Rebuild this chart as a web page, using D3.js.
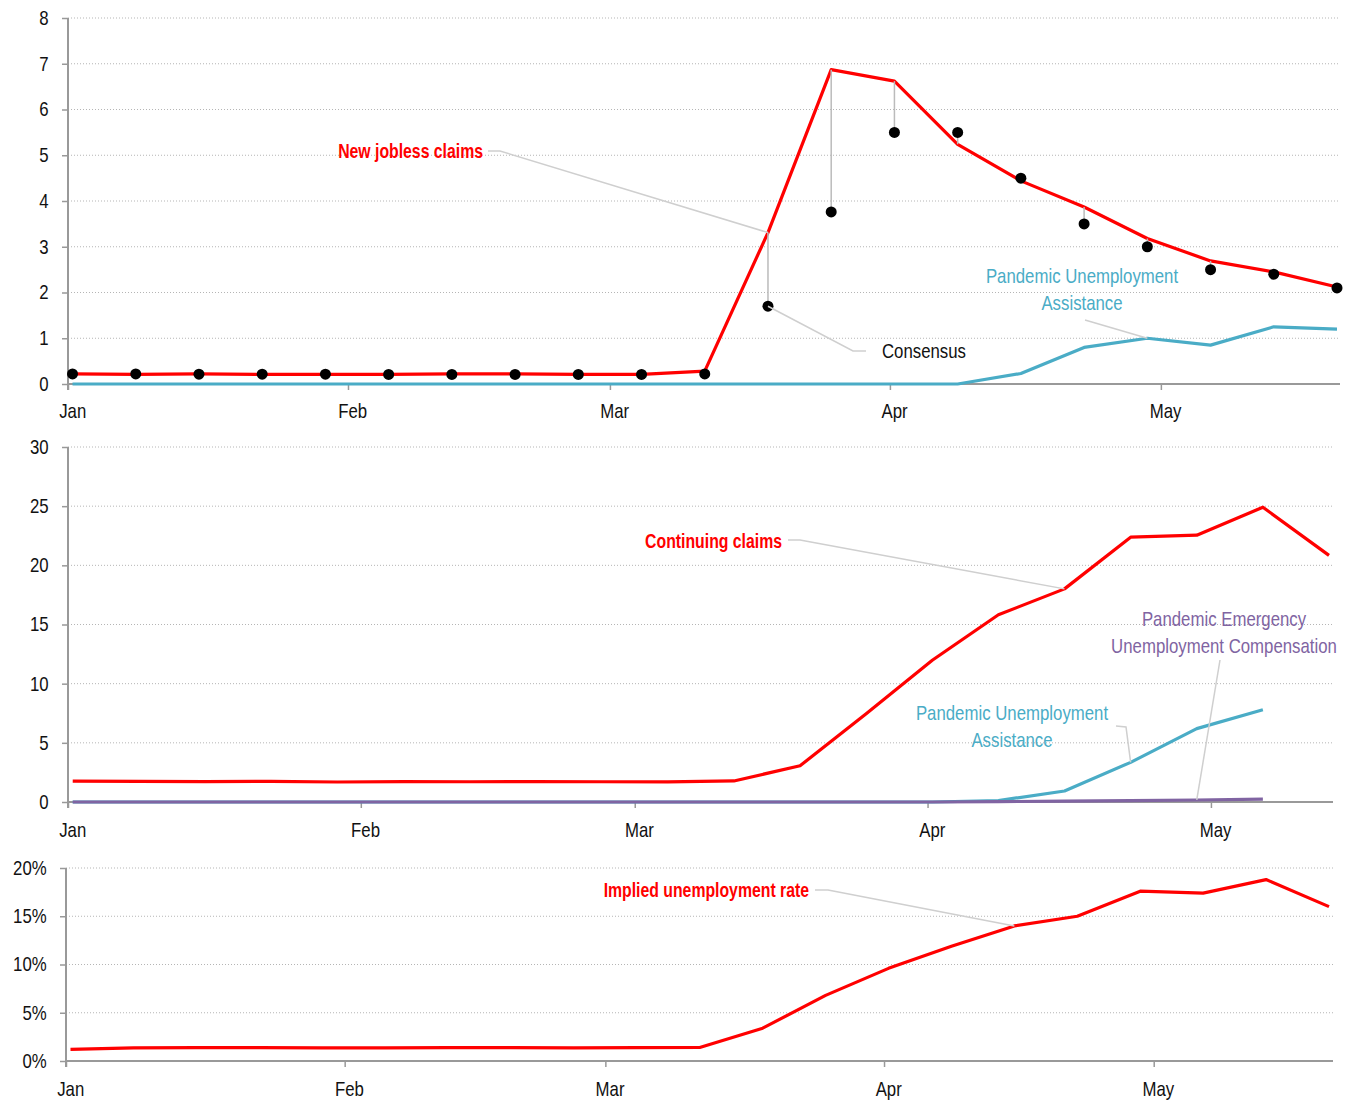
<!DOCTYPE html>
<html>
<head>
<meta charset="utf-8">
<script src="https://cdn.jsdelivr.net/npm/d3@7"></script>
<style>
  body { margin: 0; background: #fff; }
  svg { display: block; font-family: "Liberation Sans", Arial, sans-serif; }
</style>
</head>
<body>
<svg width="1352" height="1104"></svg>
<script>
// weekly dates (Wednesdays)
var weekDates = ['2020-01-01', '2020-01-08', '2020-01-15', '2020-01-22', '2020-01-29',
	'2020-02-05', '2020-02-12', '2020-02-19', '2020-02-26', '2020-03-04', '2020-03-11',
	'2020-03-18', '2020-03-25', '2020-04-01', '2020-04-08', '2020-04-15', '2020-04-22',
	'2020-04-29', '2020-05-06', '2020-05-13', '2020-05-20'];

// panel 1, millions
var newClaims = [0.22, 0.21, 0.22, 0.21, 0.21, 0.21, 0.22, 0.22, 0.21, 0.21, 0.28,
	3.31, 6.87, 6.62, 5.24, 4.44, 3.87, 3.18, 2.69, 2.45, 2.12];
var consensus = [0.22, 0.22, 0.215, 0.215, 0.215, 0.21, 0.21, 0.21, 0.21, 0.21, 0.22,
	1.70, 3.76, 5.50, 5.50, 4.50, 3.50, 3.00, 2.50, 2.40, 2.10];
var puaNew = [0, 0, 0, 0, 0, 0, 0, 0, 0, 0, 0, 0, 0, 0, 0, 0.23, 0.80, 1.00, 0.85, 1.25, 1.20];

// panel 2, millions
var continuing = [1.77, 1.75, 1.72, 1.74, 1.69, 1.73, 1.71, 1.72, 1.71, 1.70, 1.78,
	3.06, 7.46, 11.98, 15.82, 18.01, 22.38, 22.55, 24.91, 20.84];
var puaCont = [0, 0, 0, 0, 0, 0, 0, 0, 0, 0, 0, 0, 0, 0, 0.12, 0.93, 3.35, 6.20, 7.80];
var peuc = [0, 0, 0, 0, 0, 0, 0, 0, 0, 0, 0, 0, 0, 0, 0.03, 0.07, 0.12, 0.17, 0.25];

// panel 3, percent
var impliedRate = [1.2, 1.35, 1.38, 1.38, 1.35, 1.37, 1.38, 1.38, 1.37, 1.38, 1.4,
	3.4, 6.8, 9.6, 11.9, 14.0, 15.0, 17.6, 17.4, 18.8, 16.0];

var ticks1 = [0, 1, 2, 3, 4, 5, 6, 7, 8];
var ticks2 = [0, 5, 10, 15, 20, 25, 30];
var ticks3 = [0, 5, 10, 15, 20];

var RED = '#ff0000', TEAL = '#4aacc6', PURPLE = '#8064a2', LEADER = '#cfcfcf';
var NARROW = 0.84, NARROW_BOLD = 0.79; // fake a condensed face

var parse = d3.timeParse('%Y-%m-%d');
var dates = weekDates.map(function(s) { return d3.timeHour.offset(parse(s), 12); });

var svg = d3.select('svg');

function drawPanel(p) {
	var x = d3.scaleTime().domain([parse('2020-01-01'), p.end]).range([p.left, p.right]);
	var y = d3.scaleLinear().domain(p.yDomain).range([p.bottom, p.top]);
	var g = svg.append('g');

	// dotted grid
	g.selectAll('.grid').data(p.yTicks.slice(1)).enter().append('line')
		.attr('x1', p.left).attr('x2', p.gridRight)
		.attr('y1', function(d) { return y(d); }).attr('y2', function(d) { return y(d); })
		.attr('stroke', '#b5b5b5').attr('stroke-width', 1).attr('stroke-dasharray', '1,2');

	var yAxis = d3.axisLeft(y).tickValues(p.yTicks).tickSize(6).tickFormat(p.fmt);
	var ya = g.append('g').attr('transform', `translate(${p.left},0)`).call(yAxis);
	ya.select('.domain').remove();
	ya.selectAll('line').attr('stroke', '#999').attr('stroke-width', 1.5);
	ya.selectAll('text').attr('x', -23).attr('font-size', 20).attr('fill', '#111')
		.attr('font-family', 'inherit').attr('transform', `scale(${NARROW},1)`);
	g.append('line').attr('x1', p.left).attr('x2', p.left)
		.attr('y1', p.top).attr('y2', p.bottom + 6)
		.attr('stroke', '#999').attr('stroke-width', 2);

	var xAxis = d3.axisBottom(x).ticks(d3.timeMonth.every(1))
		.tickFormat(d3.timeFormat('%b')).tickSize(6).tickSizeOuter(0);
	var xa = g.append('g').attr('transform', `translate(0,${p.bottom})`).call(xAxis);
	xa.select('.domain').remove();
	xa.selectAll('line').attr('stroke', '#999').attr('stroke-width', 1.5);
	xa.selectAll('text').attr('x', 5).attr('y', p.labelY).attr('font-size', 20).attr('fill', '#111')
		.attr('font-family', 'inherit').attr('transform', `scale(${NARROW},1)`);
	g.append('line').attr('x1', p.left).attr('x2', p.gridRight)
		.attr('y1', p.bottom).attr('y2', p.bottom)
		.attr('stroke', '#999').attr('stroke-width', 2);

	var line = d3.line()
		.x(function(d, i) { return x(dates[i]); })
		.y(function(d) { return y(d); });

	p.series.forEach(function(s) {
		g.append('path')
			.attr('d', line(s.values))
			.attr('fill', 'none')
			.attr('stroke', s.color)
			.attr('stroke-width', 3.2)
			.attr('stroke-linejoin', 'round');
	});

	return { g: g, x: x, y: y };
}

function leader(g, pts) {
	g.append('polyline')
		.attr('points', pts.map(function(d) { return d.join(','); }).join(' '))
		.attr('fill', 'none').attr('stroke', LEADER).attr('stroke-width', 1.5);
}

function label(g, lines, x0, y0, color, anchor, bold) {
	var t = g.append('text')
		.attr('transform', `translate(${x0},${y0}) scale(${bold ? NARROW_BOLD : NARROW},1)`)
		.attr('text-anchor', anchor)
		.attr('fill', color)
		.attr('font-size', 20)
		.attr('font-weight', bold ? 'bold' : 'normal');
	lines.forEach(function(l, i) {
		t.append('tspan').attr('x', 0).attr('dy', i === 0 ? 0 : 27).text(l);
	});
}

// ---- panel 1
var p1 = drawPanel({
	left: 68, right: 1337, gridRight: 1340, top: 18, bottom: 384, labelY: 20,
	end: d3.timeHour.offset(parse('2020-05-20'), 12),
	yDomain: [0, 8], yTicks: ticks1, fmt: d3.format('d'),
	series: [
		{ values: puaNew, color: TEAL },
		{ values: newClaims, color: RED }
	]
});
// consensus stems + dots
p1.g.selectAll('.stem').data(consensus).enter().append('line')
	.attr('x1', function(d, i) { return p1.x(dates[i]); })
	.attr('x2', function(d, i) { return p1.x(dates[i]); })
	.attr('y1', function(d) { return p1.y(d); })
	.attr('y2', function(d, i) { return p1.y(newClaims[i]); })
	.attr('stroke', '#bbb').attr('stroke-width', 1.5);
p1.g.selectAll('.dot').data(consensus).enter().append('circle')
	.attr('cx', function(d, i) { return p1.x(dates[i]); })
	.attr('cy', function(d) { return p1.y(d); })
	.attr('r', 5.5).attr('fill', '#000');

leader(p1.g, [[488, 151], [500, 151], [p1.x(dates[11]), p1.y(newClaims[11])]]);
label(p1.g, ['New jobless claims'], 483, 158, RED, 'end', true);
leader(p1.g, [[866, 351], [853, 351], [p1.x(dates[11]), p1.y(consensus[11])]]);
label(p1.g, ['Consensus'], 882, 358, '#111', 'start', false);
leader(p1.g, [[1085, 320], [p1.x(dates[17]), p1.y(puaNew[17])]]);
label(p1.g, ['Pandemic Unemployment', 'Assistance'], 1082, 283, TEAL, 'middle', false);

// ---- panel 2
var p2 = drawPanel({
	left: 68, right: 1329, gridRight: 1333, top: 447, bottom: 802, labelY: 21,
	end: d3.timeHour.offset(parse('2020-05-13'), 12),
	yDomain: [0, 30], yTicks: ticks2, fmt: d3.format('d'),
	series: [
		{ values: puaCont, color: TEAL },
		{ values: peuc, color: PURPLE },
		{ values: continuing, color: RED }
	]
});
leader(p2.g, [[788, 540], [800, 540], [p2.x(dates[15]), p2.y(continuing[15])]]);
label(p2.g, ['Continuing claims'], 782, 548, RED, 'end', true);
leader(p2.g, [[1220, 660], [p2.x(dates[17]), p2.y(peuc[17])]]);
label(p2.g, ['Pandemic Emergency', 'Unemployment Compensation'], 1224, 626, PURPLE, 'middle', false);
leader(p2.g, [[1116, 726], [1126, 727], [p2.x(dates[16]), p2.y(puaCont[16])]]);
label(p2.g, ['Pandemic Unemployment', 'Assistance'], 1012, 720, TEAL, 'middle', false);

// ---- panel 3
var p3 = drawPanel({
	left: 66, right: 1329, gridRight: 1333, top: 868, bottom: 1061, labelY: 21,
	end: d3.timeHour.offset(parse('2020-05-20'), 12),
	yDomain: [0, 20], yTicks: ticks3, fmt: function(d) { return d + '%'; },
	series: [
		{ values: impliedRate, color: RED }
	]
});
leader(p3.g, [[815, 890], [828, 890], [p3.x(dates[15]), p3.y(impliedRate[15])]]);
label(p3.g, ['Implied unemployment rate'], 809, 897, RED, 'end', true);
</script>
</body>
</html>
